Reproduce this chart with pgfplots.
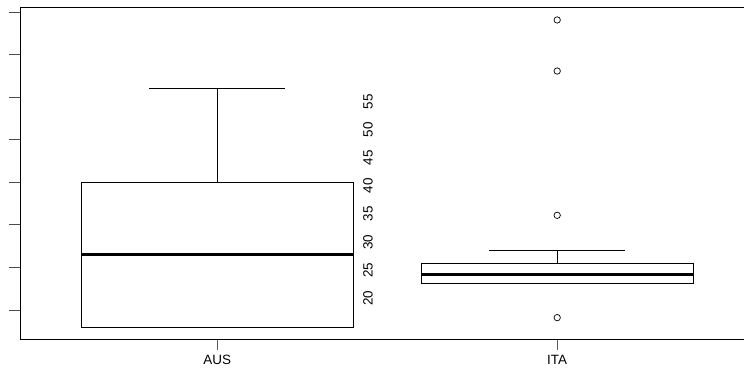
\documentclass[border=0pt]{standalone}
\usepackage{fontspec}
\setmainfont{Liberation Sans}
\usepackage{pgfplots}
\pgfplotsset{compat=1.18}
\begin{document}
\begin{tikzpicture}
\begin{axis}[
  name=main,
  scale only axis, width=734.4bp, height=332bp,
  xmin=0.42, xmax=2.58, ymin=16.59, ymax=55.59,
  axis line style={line width=0.8bp, black},
  tick pos=left, tick align=outside,
  major tick length=11bp,
  xtick={1,2}, xticklabels={AUS,ITA},
  ytick={20,25,...,55}, yticklabels={},
  x tick style={line width=0.7bp, black!65},
  y tick style={line width=0.9bp, black!70},
  xticklabel style={font=\fontsize{13.5}{16}\selectfont, yshift=-2bp},
]
% AUS: box 18.0 -- 35.0, median 26.54, upper whisker 46.04
\addplot[black, line width=0.8bp] coordinates {(0.6,18.0) (1.4,18.0) (1.4,35.0) (0.6,35.0) (0.6,18.0)};
\addplot[black, line width=3bp] coordinates {(0.6,26.54) (1.4,26.54)};
\addplot[black, line width=0.8bp] coordinates {(1,35.0) (1,46.04)};
\addplot[black, line width=0.8bp] coordinates {(0.8,46.04) (1.2,46.04)};
% ITA: box 23.17 -- 25.52, median 24.11, upper whisker 27.05
\addplot[black, line width=0.8bp] coordinates {(1.6,23.17) (2.4,23.17) (2.4,25.52) (1.6,25.52) (1.6,23.17)};
\addplot[black, line width=3bp] coordinates {(1.6,24.11) (2.4,24.11)};
\addplot[black, line width=0.8bp] coordinates {(2,25.52) (2,27.05)};
\addplot[black, line width=0.8bp] coordinates {(1.8,27.05) (2.2,27.05)};
\addplot[black, only marks, mark=o, mark size=3.2bp, mark options={line width=0.7bp}]
  coordinates {(2,54.07) (2,48.07) (2,31.12) (2,19.1)};
\end{axis}
\begin{axis}[
  scale only axis, width=734.4bp, height=332bp,
  xmin=0.42, xmax=2.58, ymin=12.68, ymax=71.96,
  hide x axis,
  axis line style={draw=none},
  ytick={20,25,...,55}, major tick length=0pt,
  /pgf/number format/assume math mode=true,
  yticklabel style={xshift=348bp, rotate=90, anchor=center, font=\fontsize{13.5}{16}\selectfont},
]
\end{axis}
\pgfresetboundingbox
\path[use as bounding box] (-20bp,-31bp) rectangle (724bp,339bp);
\end{tikzpicture}
\end{document}
